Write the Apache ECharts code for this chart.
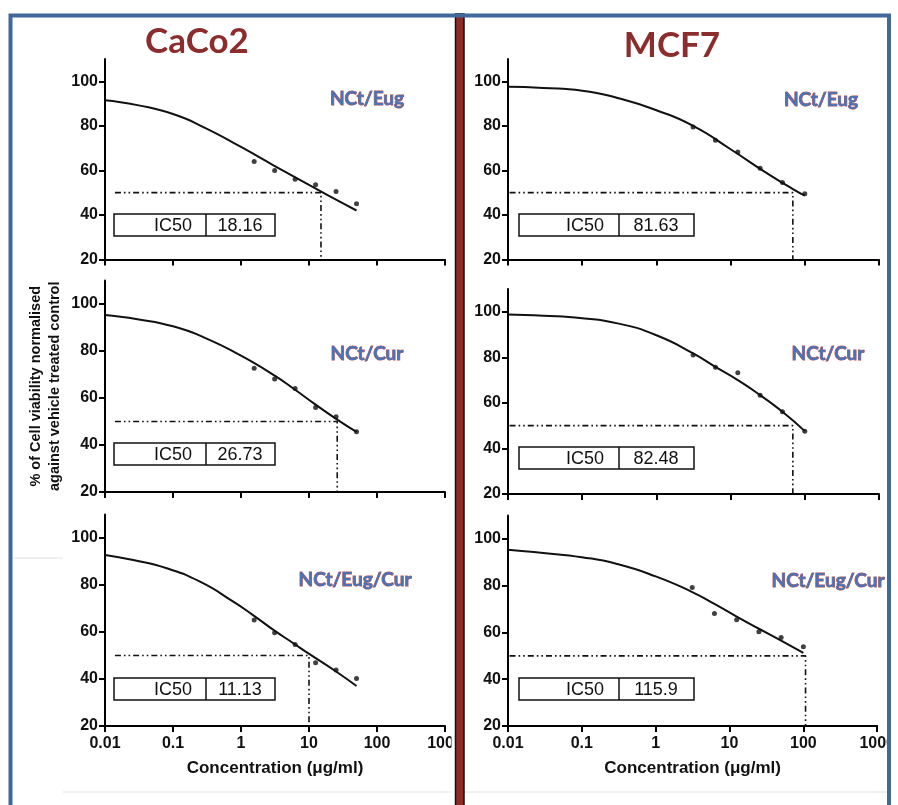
<!doctype html>
<html>
<head>
<meta charset="utf-8">
<title>CaCo2 / MCF7 viability</title>
<style>
  html, body { margin: 0; padding: 0; background: #fff; }
  #main { width: 898px; height: 805px; }
</style>
</head>
<body>
<div id="main"></div>
<script src="https://cdn.jsdelivr.net/npm/echarts@6/dist/echarts.min.js"></script>
<script>
// concentrations (ug/ml)
var concCaco2 = [1.5625, 3.125, 6.25, 12.5, 25, 50];
var concMcf7 = [3.125, 6.25, 12.5, 25, 50, 100];

// measured viability (%)
var caco2EugPts = [64, 60, 56, 53.5, 50.5, 45];
var caco2CurPts = [72.7, 68.1, 64, 56, 52, 45.6];
var caco2MixPts = [65.1, 59.7, 54.7, 46.9, 43.8, 40.2];
var mcf7EugPts = [79.5, 73.5, 68.3, 61, 54.6, 49.5];
var mcf7CurPts = [81, 75.6, 73.2, 63.4, 56.1, 47.6];
var mcf7MixPts = [79.2, 68.1, 65.4, 60.3, 57.9, 53.9];

// fitted curves
var caco2EugFit = [[0.01, 91.5], [0.03, 89.3], [0.1, 85.3], [0.3, 79], [1, 70.5], [3, 62.3], [10, 53.5], [20, 48.4], [50, 42]];
var caco2CurFit = [[0.01, 95.3], [0.03, 93.5], [0.1, 90.5], [0.3, 85.5], [1, 78], [3.125, 69.5], [6.25, 63.5], [12.5, 57.2], [27, 50.5], [50, 45.6]];
var caco2MixFit = [[0.01, 92.8], [0.026, 90.6], [0.081, 87.1], [0.25, 81.4], [0.77, 72.9], [1.5, 67.2], [3, 60.9], [5.9, 55.2], [9.8, 50.9], [25, 43.2], [50, 37]];
var mcf7EugFit = [[0.01, 97.5], [0.03, 97], [0.1, 95.8], [0.3, 92.5], [1, 87], [3.125, 80], [10, 69.5], [30, 59], [70, 51.5], [100, 48.7]];
var mcf7CurFit = [[0.01, 98.8], [0.03, 98.3], [0.1, 97.2], [0.3, 94.9], [1, 89.7], [3.125, 81.7], [6.25, 75.8], [12.5, 70], [25, 63.4], [50, 56.1], [100, 47.6]];
var mcf7MixFit = [[0.01, 95.4], [0.03, 94], [0.1, 92.2], [0.3, 89.3], [1, 84], [3.125, 77.3], [6.25, 72.2], [12.5, 66.8], [25, 61.6], [50, 56.5], [100, 51.3]];

// IC50 guide lines and box text
var guideX = [15, 69, 26, 69, 10, 107];
var guideStart = [0.014, 0.0105, 0.014, 0.0105, 0.014, 0.0105];
var ic50Text = ['18.16', '81.63', '26.73', '82.48', '11.13', '115.9'];
var panelNames = ['NCt/Eug', 'NCt/Eug', 'NCt/Cur', 'NCt/Cur', 'NCt/Eug/Cur', 'NCt/Eug/Cur'];

var yTicks = [20, 40, 60, 80, 100];

var chart = echarts.init(document.getElementById('main'), null, { renderer: 'canvas' });

var pts = [caco2EugPts, mcf7EugPts, caco2CurPts, mcf7CurPts, caco2MixPts, mcf7MixPts];
var fits = [caco2EugFit, mcf7EugFit, caco2CurFit, mcf7CurFit, caco2MixFit, mcf7MixFit];

var grids = [
    { left: 105, top: 59, width: 340, height: 200.5 },
    { left: 508, top: 59, width: 371, height: 200.5 },
    { left: 105, top: 280.5, width: 340, height: 211.5 },
    { left: 508, top: 289, width: 371, height: 205 },
    { left: 105, top: 514.5, width: 340, height: 211.5 },
    { left: 508, top: 515.6, width: 371, height: 210.4 }
];

var axisFont = 'Liberation Sans, Arial, sans-serif';
var labelFont = 'Lato, "Open Sans", sans-serif';
var xAxes = [], yAxes = [], series = [];

grids.forEach(function (g, i) {
    var bottomRow = i >= 4;
    xAxes.push({
        type: 'log', logBase: 10, gridIndex: i, min: 0.01, max: 1000,
        axisLine: { lineStyle: { color: '#000', width: 2 } },
        axisTick: { show: true, length: 6, lineStyle: { color: '#000', width: 2 } },
        splitLine: { show: false },
        minorTick: { show: false },
        axisLabel: {
            show: bottomRow, margin: 10, color: '#111', fontSize: 16, fontWeight: 'bold',
            fontFamily: axisFont,
            formatter: function (v) { return String(Number(Number(v).toPrecision(6))); }
        },
        name: bottomRow ? 'Concentration (\u03bcg/ml)' : '',
        nameLocation: 'middle', nameGap: 34,
        nameTextStyle: { color: '#111', fontSize: 17, fontWeight: 'bold', fontFamily: axisFont }
    });
    yAxes.push({
        type: 'value', gridIndex: i, min: 20, max: 110,
        axisLine: { show: true, lineStyle: { color: '#000', width: 2 } },
        axisTick: { show: true, length: 6, customValues: yTicks, lineStyle: { color: '#000', width: 2 } },
        splitLine: { show: false },
        axisLabel: {
            margin: 7, color: '#111', fontSize: 16, fontWeight: 'bold', fontFamily: axisFont,
            customValues: yTicks
        },
        name: i === 2 ? '% of Cell viability normalised\nagainst vehicle treated control' : '',
        nameLocation: 'middle', nameGap: 41,
        nameTextStyle: { color: '#111', fontSize: 14.5, fontWeight: 'bold', fontFamily: axisFont, lineHeight: 19 }
    });

    var conc = (i % 2 === 0) ? concCaco2 : concMcf7;
    series.push({
        type: 'line', xAxisIndex: i, yAxisIndex: i, smooth: 0.55, showSymbol: false,
        lineStyle: { color: '#111', width: 2 }, data: fits[i], z: 3, silent: true
    });
    series.push({
        type: 'scatter', xAxisIndex: i, yAxisIndex: i, symbolSize: 5,
        itemStyle: { color: '#111' },
        data: conc.map(function (c, k) { return [c, pts[i][k]]; }), z: 4
    });
    series.push({
        type: 'line', xAxisIndex: i, yAxisIndex: i, showSymbol: false, silent: true,
        lineStyle: { color: '#111', width: 1.6, type: [6, 3, 1.6, 3, 1.6, 3] },
        data: [[guideStart[i], 50], [guideX[i], 50], [guideX[i], 20]], z: 2
    });
});

// annotation boxes and labels
var boxTops = [214, 214, 443, 447, 678, 678];
var graphics = [];
boxTops.forEach(function (t, i) {
    var left = i % 2 === 0;
    var bx = left ? 114 : 519, bw = left ? 161 : 175, dv = left ? 206 : 619;
    graphics.push({ type: 'rect', shape: { x: bx, y: t, width: bw, height: 22 },
        style: { fill: '#fff', stroke: '#111', lineWidth: 1.5 }, z: 50 });
    graphics.push({ type: 'line', shape: { x1: dv, y1: t, x2: dv, y2: t + 22 },
        style: { stroke: '#111', lineWidth: 1.5 }, z: 51 });
    graphics.push({ type: 'text', x: left ? 192 : 604, y: t + 12, z: 52,
        style: { text: 'IC50', fill: '#111', font: '18px ' + axisFont, align: 'right', verticalAlign: 'middle' } });
    graphics.push({ type: 'text', x: left ? 240 : 656, y: t + 12, z: 52,
        style: { text: ic50Text[i], fill: '#111', font: '18px ' + axisFont, align: 'center', verticalAlign: 'middle' } });
});

var namePos = [[367, 99], [821, 100], [367, 354], [828, 354], [355, 580], [828, 581]];
namePos.forEach(function (p, i) {
    graphics.push({ type: 'text', x: p[0], y: p[1], z: 60,
        style: { text: panelNames[i], fill: '#4a72b8', stroke: '#b5504a', lineWidth: 0.9,
            font: 'bold 19px ' + labelFont, align: 'center', verticalAlign: 'middle' } });
});

graphics.push({ type: 'text', x: 197, y: 42, z: 60,
    style: { text: 'CaCo2', fill: '#8c2d2d', font: 'bold 35px ' + labelFont,
        align: 'center', verticalAlign: 'middle', shadowColor: 'rgba(0,0,0,0.35)', shadowBlur: 2, shadowOffsetX: 1.5, shadowOffsetY: 1.5 } });
graphics.push({ type: 'text', x: 672, y: 46, z: 60,
    style: { text: 'MCF7', fill: '#8c2d2d', font: 'bold 35px ' + labelFont,
        align: 'center', verticalAlign: 'middle', shadowColor: 'rgba(0,0,0,0.35)', shadowBlur: 2, shadowOffsetX: 1.5, shadowOffsetY: 1.5 } });

// faint page rules
graphics.push({ type: 'line', shape: { x1: 13, y1: 558, x2: 63, y2: 558 }, style: { stroke: '#e2e2e2', lineWidth: 1 }, z: 1 });
graphics.push({ type: 'line', shape: { x1: 63, y1: 792, x2: 898, y2: 792 }, style: { stroke: '#e2e2e2', lineWidth: 1 }, z: 1 });

// frame and divider
graphics.push({ type: 'rect', shape: { x: 451.5, y: 14, width: 4, height: 800 }, style: { fill: '#fff' }, z: 90 });
graphics.push({ type: 'rect', shape: { x: 455.5, y: 14, width: 8.5, height: 800 },
    style: { fill: '#8e2b25', stroke: '#111', lineWidth: 1.5 }, z: 91 });
graphics.push({ type: 'rect', shape: { x: 10.5, y: 15.5, width: 878.5, height: 800 },
    style: { fill: 'none', stroke: '#41689b', lineWidth: 4 }, z: 92 });
graphics.push({ type: 'rect', shape: { x: 891, y: 0, width: 7, height: 805 }, style: { fill: '#fff' }, z: 93 });

chart.setOption({
    backgroundColor: '#fff',
    animation: false,
    grid: grids,
    xAxis: xAxes,
    yAxis: yAxes,
    series: series,
    graphic: graphics
});
</script>
</body>
</html>
